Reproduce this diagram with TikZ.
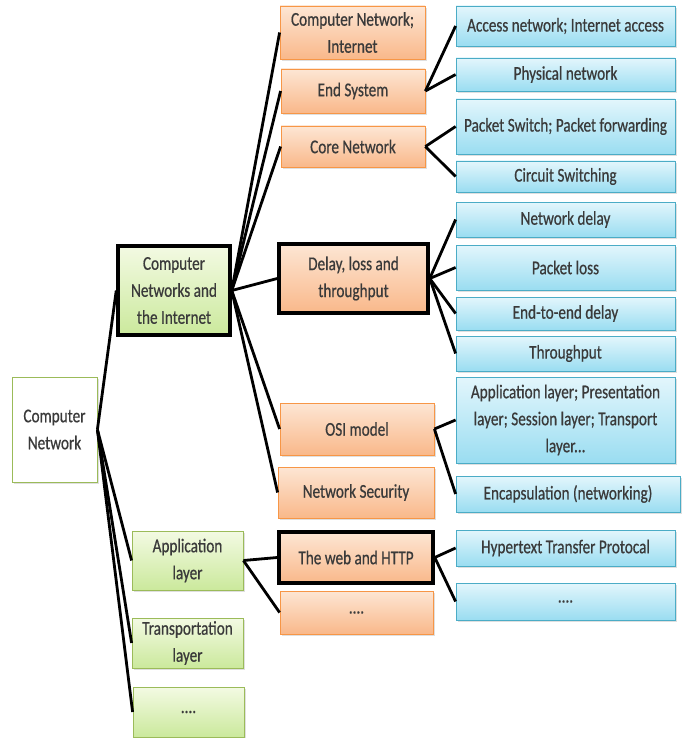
\documentclass[tikz,border=0pt]{standalone}
\usepackage{fontspec}
\setmainfont[FakeStretch=0.78, FakeBold=0.6]{Carlito}
\usetikzlibrary{shadows}
\definecolor{txtgray}{HTML}{3A3A3A}
\definecolor{orangetop}{HTML}{FDE6D4}
\definecolor{orangebot}{HTML}{F9B88A}
\definecolor{orangeline}{HTML}{F79646}
\definecolor{bluetop}{HTML}{E3F6FC}
\definecolor{bluebot}{HTML}{9ADDF1}
\definecolor{blueline}{HTML}{4BACC6}
\definecolor{greentop}{HTML}{F3FAE3}
\definecolor{greenbot}{HTML}{CBE99C}
\definecolor{greenline}{HTML}{9BBB59}
\tikzset{
    box/.style={rectangle, inner sep=2pt, align=center, text=txtgray,
        font=\fontsize{19.5}{27}\selectfont,
        drop shadow={opacity=0.25, shadow xshift=2pt, shadow yshift=-2pt}},
    rootbox/.style={box, draw=greenline, fill=white, line width=0.8pt},
    greenbox/.style={box, draw=greenline, top color=greentop, bottom color=greenbot, line width=0.8pt},
    orangebox/.style={box, draw=orangeline, top color=orangetop, bottom color=orangebot, line width=0.8pt},
    bluebox/.style={box, draw=blueline, top color=bluetop, bottom color=bluebot, line width=0.8pt},
    bold/.style={draw=black, line width=3.5pt},
    link/.style={draw=black, line width=2.8pt}
}
\begin{document}
\begin{tikzpicture}[x=1pt, y=-1pt]
    \useasboundingbox (0,0) rectangle (684,738);

    % root and first level
    \node[rootbox, minimum width=85pt, minimum height=105pt] (root) at (54.5,429.5) {Computer\\Network};
    \node[greenbox, bold, minimum width=112pt, minimum height=89pt] (cni) at (174,290.5) {Computer\\Networks and\\the Internet};
    \node[greenbox, minimum width=111pt, minimum height=59pt] (app) at (187.5,560.5) {Application\\layer};
    \node[greenbox, minimum width=111pt, minimum height=50pt] (trans) at (187.5,643) {Transportation\\layer};
    \node[greenbox, minimum width=111pt, minimum height=50pt] (gdots) at (188.5,712) {....};

    % second level
    \node[orangebox, minimum width=145pt, minimum height=53pt] (cnet) at (352.5,32.5) {Computer Network;\\Internet};
    \node[orangebox, minimum width=144pt, minimum height=44pt] (endsys) at (353,91) {End System};
    \node[orangebox, minimum width=144pt, minimum height=41pt] (core) at (353,146.5) {Core Network};
    \node[orangebox, bold, minimum width=149pt, minimum height=69pt] (delay) at (353.5,278.5) {Delay, loss and\\throughput};
    \node[orangebox, minimum width=154pt, minimum height=52pt] (osi) at (357,429) {OSI model};
    \node[orangebox, minimum width=156pt, minimum height=51pt] (sec) at (356,492.5) {Network Security};
    \node[orangebox, bold, minimum width=154pt, minimum height=51pt] (web) at (356,557.5) {The web and HTTP};
    \node[orangebox, minimum width=153pt, minimum height=43pt] (odots) at (356.5,612.5) {....};

    % third level
    \node[bluebox, minimum width=219pt, minimum height=40pt] (access) at (565.5,26) {Access network; Internet access};
    \node[bluebox, minimum width=219pt, minimum height=33pt] (phys) at (565.5,74.5) {Physical network};
    \node[bluebox, minimum width=219pt, minimum height=55pt] (pswitch) at (565.5,126.5) {Packet Switch; Packet forwarding};
    \node[bluebox, minimum width=219pt, minimum height=31pt] (circuit) at (565.5,176.5) {Circuit Switching};
    \node[bluebox, minimum width=219pt, minimum height=35pt] (ndelay) at (565.5,219.5) {Network delay};
    \node[bluebox, minimum width=219pt, minimum height=45pt] (ploss) at (565.5,267.5) {Packet loss};
    \node[bluebox, minimum width=219pt, minimum height=33pt] (e2e) at (565.5,313.5) {End-to-end delay};
    \node[bluebox, minimum width=219pt, minimum height=35pt] (thru) at (565.5,353.5) {Throughput};
    \node[bluebox, minimum width=219pt, minimum height=86pt] (layers) at (565.5,420) {Application layer; Presentation\\layer; Session layer; Transport\\layer...};
    \node[bluebox, minimum width=224pt, minimum height=36pt] (encap) at (568,494) {Encapsulation (networking)};
    \node[bluebox, minimum width=219pt, minimum height=36pt] (http) at (565.5,548) {Hypertext Transfer Protocal};
    \node[bluebox, minimum width=219pt, minimum height=37pt] (bdots) at (565.5,601.5) {....};

    % connectors
    \foreach \c in {cni,app,trans,gdots}
        \draw[link] (root.east) -- (\c.west);
    \foreach \c in {cnet,endsys,core,delay,osi,sec}
        \draw[link] (cni.east) -- (\c.west);
    \foreach \c in {web,odots}
        \draw[link] (app.east) -- (\c.west);
    \foreach \c in {access,phys}
        \draw[link] (endsys.east) -- (\c.west);
    \foreach \c in {pswitch,circuit}
        \draw[link] (core.east) -- (\c.west);
    \foreach \c in {ndelay,ploss,e2e,thru}
        \draw[link] (delay.east) -- (\c.west);
    \foreach \c in {layers,encap}
        \draw[link] (osi.east) -- (\c.west);
    \foreach \c in {http,bdots}
        \draw[link] (web.east) -- (\c.west);
\end{tikzpicture}
\end{document}
